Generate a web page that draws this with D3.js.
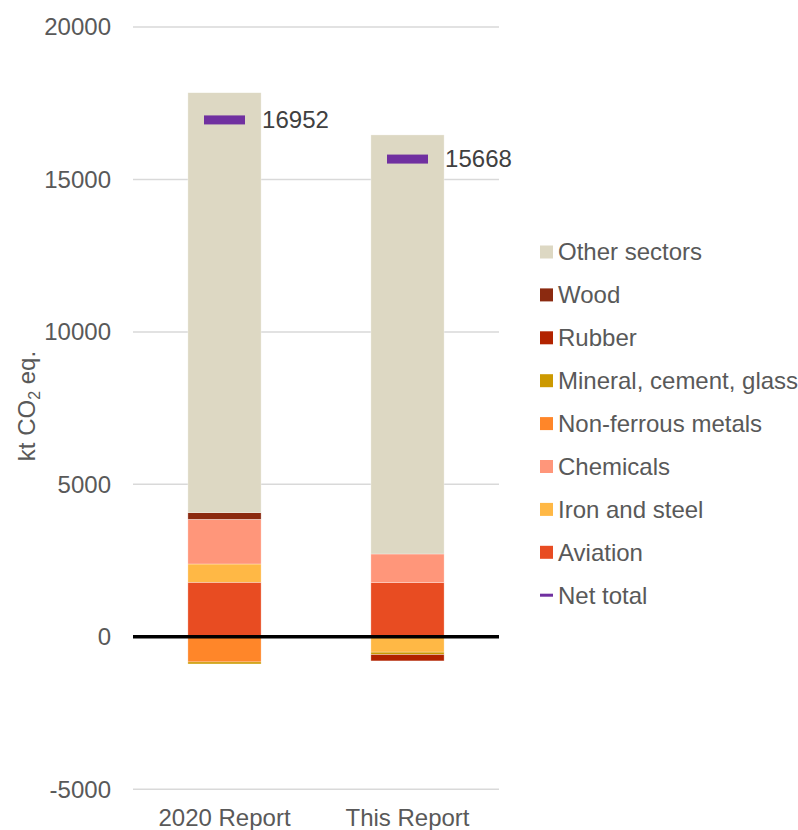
<!DOCTYPE html>
<html>
<head>
<meta charset="utf-8">
<script src="https://cdn.jsdelivr.net/npm/d3@7"></script>
<style>
  body { margin: 0; background: #fff; }
  text { font-family: "Liberation Sans", Arial, sans-serif; fill: #595959; }
</style>
</head>
<body>
<div id="chart"></div>
<script>
var reports   = ["2020 Report", "This Report"],
    sectors   = ["Aviation", "Iron and steel", "Chemicals", "Non-ferrous metals",
                 "Mineral, cement, glass", "Rubber", "Wood", "Other sectors"],
    colors    = ["#E84C22", "#FFB845", "#FF967A", "#FF8629",
                 "#CC9900", "#B22300", "#8B2A10", "#DDD8C3"],
    netTotals = [16952, 15668],
    yTicks    = [-5000, 0, 5000, 10000, 15000, 20000]

// values per sector, one entry per report (kt CO2 eq.)
var aviation    = [1787, 1774],
    ironSteel   = [600, -505],
    chemicals   = [1466, 941],
    nonFerrous  = [-826, 0],
    mineral     = [-66, -80],
    rubber      = [0, -207],
    wood        = [216, 0],
    otherSector = [13775, 13745]

var series = [aviation, ironSteel, chemicals, nonFerrous, mineral, rubber, wood, otherSector]

var width    = 798,
    height   = 830,
    fontSize = "24px"

var svg = d3.select("#chart")
  .append("svg")
  .attr("width", width)
  .attr("height", height)

var x = d3.scaleBand()
  .domain(reports)
  .range([133, 499])
  .paddingInner(0.6)
  .paddingOuter(0.3)

var y = d3.scaleLinear()
  .domain([-5000, 20000])
  .range([789.2, 27])

// gridlines + tick labels
var grid = svg.append("g")
grid.selectAll("line")
  .data(yTicks)
  .enter().append("line")
  .attr("x1", 133)
  .attr("x2", 499)
  .attr("y1", d => y(d))
  .attr("y2", d => y(d))
  .attr("stroke", "#d9d9d9")
  .attr("stroke-width", 1.5)

grid.selectAll("text")
  .data(yTicks)
  .enter().append("text")
  .attr("x", 111)
  .attr("y", d => y(d))
  .attr("dy", "0.35em")
  .attr("text-anchor", "end")
  .style("font-size", fontSize)
  .text(d => d)

// stacked bars, positives up from zero and negatives down from zero
var rows = reports.map((r, i) => {
  var pos = 0, neg = 0
  return series.map((s, k) => {
    var v = s[i], y0, y1
    if(v >= 0) { y0 = pos; y1 = pos + v; pos = y1 }
    else       { y0 = neg; y1 = neg + v; neg = y1 }
    return { report: r, sector: sectors[k], color: colors[k], y0: y0, y1: y1 }
  }).filter(d => d.y0 != d.y1)
})

function _flatten(a) { return a.reduce((acc, e) => acc.concat(e), []) }

svg.append("g")
  .selectAll("rect")
  .data(_flatten(rows))
  .enter().append("rect")
  .attr("x", d => x(d.report))
  .attr("width", x.bandwidth())
  .attr("y", d => y(Math.max(d.y0, d.y1)))
  .attr("height", d => Math.abs(y(d.y0) - y(d.y1)))
  .attr("fill", d => d.color)
  .attr("stroke", "#fff")
  .attr("stroke-opacity", 0.5)
  .attr("stroke-width", 0.6)

// zero line
svg.append("line")
  .attr("x1", 133)
  .attr("x2", 499)
  .attr("y1", y(0))
  .attr("y2", y(0))
  .attr("stroke", "#000")
  .attr("stroke-width", 3.5)

// net total markers + labels
var nets = svg.append("g")
nets.selectAll("rect")
  .data(netTotals)
  .enter().append("rect")
  .attr("x", (d, i) => x(reports[i]) + x.bandwidth() / 2 - 20.5)
  .attr("width", 41)
  .attr("y", d => y(d) - 4.5)
  .attr("height", 9)
  .attr("fill", "#7030A0")

nets.selectAll("text")
  .data(netTotals)
  .enter().append("text")
  .attr("x", (d, i) => x(reports[i]) + x.bandwidth() + 1)
  .attr("y", d => y(d))
  .attr("dy", "0.35em")
  .style("font-size", fontSize)
  .style("fill", "#404040")
  .text(d => d)

// category labels
svg.append("g")
  .selectAll("text")
  .data(reports)
  .enter().append("text")
  .attr("x", d => x(d) + x.bandwidth() / 2)
  .attr("y", 826)
  .attr("text-anchor", "middle")
  .style("font-size", fontSize)
  .text(d => d)

// y axis title
var yt = svg.append("text")
  .attr("transform", "translate(35,406) rotate(-90)")
  .attr("text-anchor", "middle")
  .style("font-size", fontSize)
yt.append("tspan").text("kt CO")
yt.append("tspan").attr("dy", 5).style("font-size", "16px").text("2")
yt.append("tspan").attr("dy", -5).text(" eq.")

// legend, reversed stack order, net total last
var legendItems = sectors.map((s, i) => ({ label: s, color: colors[i], line: false })).reverse()
legendItems.push({ label: "Net total", color: "#7030A0", line: true })

var legend = svg.append("g")
  .selectAll("g")
  .data(legendItems)
  .enter().append("g")
  .attr("transform", (d, i) => "translate(540," + (252 + i * 42.9) + ")")

legend.append("rect")
  .attr("x", 0)
  .attr("width", 13)
  .attr("y", d => d.line ? -1.5 : -6.5)
  .attr("height", d => d.line ? 3 : 13)
  .attr("fill", d => d.color)

legend.append("text")
  .attr("x", 18)
  .attr("dy", "0.35em")
  .style("font-size", fontSize)
  .text(d => d.label)
</script>
</body>
</html>
